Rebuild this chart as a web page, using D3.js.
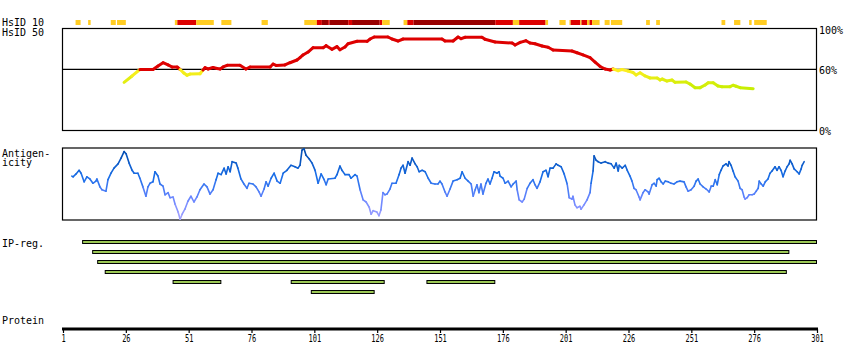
<!DOCTYPE html>
<html><head><meta charset="utf-8">
<script src="https://cdn.jsdelivr.net/npm/d3@7"></script>
<style>
body{margin:0;background:#fff;}
svg{display:block;}
text{font-family:"DejaVu Sans Mono",monospace;font-size:10px;fill:#000;}
</style></head>
<body><div id="chart"></div>
<script>
// ---------- DATA ----------
const proteinLength = 301;
const tickLabels = [1,26,51,76,101,126,151,176,201,226,251,276,301];

// HsID 10 strip: [start, end, level] level 1=yellow 2=red 3=dark red
const hsid10Start = [6,11,20,22.5,45.5,46.5,54,64,80,97,102,104,106.5,107,114.5,116,127,128,136.5,138,140.5,173,180,182.5,193,198.5,202.5,203,206.8,207.3,209.5,210.5,211.5,216.5,219,233,237,263,268,274,276];
const hsid10End   = [8,12,22,26,46.5,54,61,68,82.5,102,104,106.5,107,114.5,116,127,128,131,138,140.5,173,180,182.5,193,194,201,203,206.8,207.3,209.5,210.5,211.5,214.5,218.5,223.5,234.5,238.5,264.5,270.5,275,281];
const hsid10Level = [1,1,1,1,1,2,1,1,1,1,2,3,2,3,2,3,2,1,1,2,3,2,1,2,1,1,1,2,1,2,1,2,1,1,1,1,1,1,1,1,1];

// HsID 50 profile (% identity)
const hsid50Pos = [25.3,28.5,31.6,36.8,38.8,40.8,42.8,44.4,46.4,47.6,49.1,50.3,51.5,55.5,56.7,57.5,58.7,60.7,62.3,63.5,64.7,66.3,71.4,73.8,75.4,83.4,84.6,85.8,89.3,91.3,94.1,95.3,96.5,98.5,100.5,104.5,105.7,108,110,111.2,113.2,114.4,118,122,123.2,124.8,130.3,131.9,134.3,136.3,151.8,153,156.2,158.2,159.4,161,167.7,168.9,172.9,179.7,180.9,182.9,185.2,186.8,188.8,191.6,194,196,203.5,205.5,207.9,210.7,212.7,214.7,216.7,218.7,219.9,221.8,223.4,225.8,227.8,229,230.6,232.6,234.6,237.4,238.6,239.4,241.3,243.3,244.5,248.9,250.5,252.5,254.5,256.5,257.7,259.7,261.6,263.2,266.4,267.6,268.8,270.4,275.6];
const hsid50Val = [47.2,53.5,59.9,59.9,63.4,66.6,64.4,62.4,62.4,59.9,56.4,54.2,55.4,55.7,59.4,61.7,60.4,61.9,60.9,60.4,62.4,64.1,64.1,60.4,62.4,62.4,65.3,63.9,64.4,66.6,69.3,71.6,74.3,77.2,81.5,81.5,83.5,79.9,82.5,79.5,82.2,85.4,87.8,87.8,90.1,92.1,92.1,90.1,88.1,90.1,90.1,88.1,88.1,92.1,90.4,91.8,91.8,89.8,87.1,86.1,84.2,86.8,88.4,86.1,85.4,83.2,81.9,79.2,78.2,76.5,74.3,71.6,67.3,62.9,60.4,59.4,60.4,58.7,59.9,58.4,56.9,54.5,56.7,53.5,51.5,51.5,49.5,50.5,48.5,49.5,47.2,47.5,45.5,41.9,41.9,44.6,46.8,46.8,43.6,42.9,42.9,44.3,43.3,41.9,40.9];

// Antigenicity profile (relative score 0-100)
const antiPos = [4.5,5.0,6.2,7.4,8.2,9.4,10.5,11.7,12.9,14.1,14.5,15.7,16.5,18.1,18.9,20.1,21.3,22.9,24.1,25.3,26.1,27.3,28.5,29.3,30.8,31.6,32.8,34.0,34.8,35.6,36.8,37.6,38.8,39.6,40.8,41.6,42.8,43.6,44.8,45.6,46.8,47.6,48.4,49.5,50.7,51.9,53.1,54.3,55.5,57.1,58.3,59.5,60.7,61.9,62.7,63.9,65.1,65.9,66.7,67.5,68.3,69.9,70.6,71.8,73.0,74.2,75.0,76.6,77.8,79.0,79.8,81.0,81.8,82.6,83.8,85.0,86.2,87.4,88.6,90.1,91.7,93.3,94.5,95.3,96.1,96.9,97.7,98.9,100.1,101.3,102.5,103.7,104.9,105.7,106.5,109.2,110.0,111.2,112.0,113.2,114.8,115.6,117.2,118.0,119.2,120.4,121.6,122.8,123.6,124.4,125.9,126.7,127.5,128.3,129.1,129.9,131.1,131.9,133.5,134.7,135.5,136.3,137.1,138.3,139.1,139.9,141.1,141.9,142.7,143.9,145.1,146.3,147.5,149.0,150.2,151.0,151.8,153.0,153.8,155.0,156.2,157.8,159.0,159.8,161.0,162.2,163.4,164.2,165.0,165.7,166.5,167.3,168.1,169.3,170.1,170.9,171.7,172.5,173.7,174.5,174.9,176.1,176.9,178.1,179.3,180.1,181.3,181.7,182.5,183.7,184.5,185.7,186.8,188.0,188.8,189.6,190.8,192.0,193.2,194.0,194.8,196.0,197.2,198.0,199.2,200.4,201.6,202.4,203.5,203.9,204.7,205.5,206.7,207.1,208.3,209.5,210.7,211.1,211.9,212.3,213.1,213.9,215.1,216.7,217.9,219.1,220.3,221.1,221.9,222.3,223.5,224.7,225.5,226.6,227.4,228.2,229.0,230.2,230.6,231.8,232.6,233.8,234.2,235.4,236.2,237.0,237.4,238.2,239.0,239.8,240.6,241.8,242.9,244.1,245.3,246.5,248.1,248.9,249.7,250.9,252.1,252.9,253.7,254.5,255.7,256.9,258.1,258.9,259.7,260.5,261.3,262.1,262.8,263.6,264.8,265.6,266.0,266.8,267.6,268.4,269.6,270.4,271.2,272.0,272.4,273.2,274.0,275.2,276.0,276.8,277.6,278.0,278.8,279.6,280.4,281.5,282.3,283.1,284.3,285.1,285.9,286.7,287.5,288.3,289.1,289.9,290.3,291.1,291.9,293.1,293.9,294.7,295.1,295.9];
const antiVal = [61,60,64,69,65,53,60,57,51,54,57,46,42,40,56,65,72,78,86,95,92,79,69,65,65,58,46,33,46,51,53,67,61,50,47,35,38,31,32,22,11,1,8,15,26,33,25,32,42,50,46,36,42,56,65,63,72,64,74,67,81,79,72,57,50,44,51,50,46,39,33,43,53,47,58,65,54,51,65,69,76,74,72,76,97,99,90,85,79,69,51,64,56,49,57,58,63,75,69,63,63,58,63,61,42,28,25,18,8,13,11,6,14,38,35,36,43,51,51,63,72,76,65,81,76,86,78,74,67,69,67,58,51,50,50,54,50,39,33,43,54,56,58,67,58,54,50,33,42,49,38,50,36,51,57,50,58,67,65,67,61,58,51,54,46,50,54,42,28,25,29,44,51,56,49,44,53,67,69,60,72,72,78,76,74,64,50,31,29,33,21,17,19,15,21,28,38,51,68,89,83,81,79,81,79,78,72,79,68,76,72,76,69,61,54,44,42,32,28,38,42,39,36,49,51,47,56,58,53,50,54,53,51,50,53,54,53,46,40,42,47,54,57,50,46,43,39,47,47,56,49,63,69,75,78,75,81,76,68,60,54,44,42,32,29,31,35,35,36,40,44,54,50,47,53,57,65,68,74,69,74,69,60,68,74,78,83,78,71,67,64,71,76,81];

// IP regions [start, end]
const ipStart = [9,13,15,18,45,92,146,100];
const ipEnd   = [301,290,301,289,64,129,173,125];

// ---------- DRAW ----------
const W = 850, H = 360;
const svg = d3.select("#chart").append("svg").attr("width", W).attr("height", H);
const x = d3.scaleLinear().domain([1, proteinLength]).range([63, 817]);
const boxL = 62, boxR = 817;

// left labels
const lab = (t, yy) => svg.append("text").attr("x", 2).attr("y", yy).text(t);
lab("HsID 10", 25.5); lab("HsID 50", 35.5);
lab("Antigen-", 156.5); lab("icity", 166);
lab("IP-reg.", 247); lab("Protein", 324);

// HsID 10 strip
const lvlColor = d3.scaleOrdinal().domain([1,2,3]).range(["#ffcc22","#dd0000","#990000"]);
svg.append("g").selectAll("rect").data(d3.range(hsid10Start.length)).join("rect")
  .attr("x", i => x(hsid10Start[i])).attr("y", 20)
  .attr("width", i => Math.max(1, x(hsid10End[i]) - x(hsid10Start[i])))
  .attr("height", 5).attr("fill", i => lvlColor(hsid10Level[i]));

// HsID 50 panel
const y50 = d3.scaleLinear().domain([0,100]).range([130, 29]);
svg.append("rect").attr("x", boxL+0.5).attr("y", y50(100)-0.5).attr("width", boxR-boxL-1).attr("height", y50(0)-y50(100)+1)
  .attr("fill","none").attr("stroke","#000").attr("stroke-width",1.2);
svg.append("line").attr("x1", boxL).attr("x2", boxR).attr("y1", y50(60)).attr("y2", y50(60)).attr("stroke","#000").attr("stroke-width",1.2);
[[100,"100%"],[60,"60%"],[0,"0%"]].forEach(([v,t]) =>
  svg.append("text").attr("x", 819).attr("y", y50(v)+5).text(t));
const lowCol = d3.interpolateRgb("#c4ee00", "#ffee22");
const col50 = v => v >= 59.6 ? "#dd0000" : lowCol(Math.max(0, Math.min(1, (v-40)/20)));
const g50 = svg.append("g");
for (let i = 0; i < hsid50Pos.length-1; i++) {
  const m = (hsid50Val[i] + hsid50Val[i+1]) / 2;
  g50.append("line")
    .attr("x1", x(hsid50Pos[i])).attr("y1", y50(hsid50Val[i]))
    .attr("x2", x(hsid50Pos[i+1])).attr("y2", y50(hsid50Val[i+1]))
    .attr("stroke", col50(m)).attr("stroke-width", 3).attr("stroke-linecap","round");
}

// Antigenicity panel
const yA = d3.scaleLinear().domain([0,100]).range([220, 148]);
svg.append("rect").attr("x", boxL+0.5).attr("y", yA(100)).attr("width", boxR-boxL-1).attr("height", yA(0)-yA(100))
  .attr("fill","none").attr("stroke","#000").attr("stroke-width",1.2);
const colA = d3.scaleLinear().domain([0,30,60,100]).range(["#a8a4ff","#6a86ff","#1a6ee8","#0048a8"]).clamp(true);
const gA = svg.append("g");
for (let i = 0; i < antiPos.length-1; i++) {
  const m = (antiVal[i] + antiVal[i+1]) / 2;
  gA.append("line")
    .attr("x1", x(antiPos[i])).attr("y1", yA(antiVal[i]))
    .attr("x2", x(antiPos[i+1])).attr("y2", yA(antiVal[i+1]))
    .attr("stroke", colA(m)).attr("stroke-width", 1.6).attr("stroke-linecap","round");
}

// IP regions: greedy lane packing
const lanes = [];
const laneOf = ipStart.map((s, i) => {
  let l = lanes.findIndex(arr => arr.every(j => ipEnd[j] < s || ipStart[j] > ipEnd[i]));
  if (l < 0) { lanes.push([]); l = lanes.length - 1; }
  lanes[l].push(i); return l;
});
svg.append("g").selectAll("rect").data(d3.range(ipStart.length)).join("rect")
  .attr("x", i => x(ipStart[i]) - 0.5).attr("y", i => 240.5 + laneOf[i]*10)
  .attr("width", i => x(ipEnd[i]) - x(ipStart[i])).attr("height", 3)
  .attr("fill", "#9cc856").attr("stroke", "#000").attr("stroke-width", 1);

// Protein axis
const axis = d3.axisBottom(x).tickValues(tickLabels).tickSize(4).tickSizeOuter(0).tickFormat(d3.format("d"));
const ga = svg.append("g").attr("transform", "translate(0,329)").call(axis);
ga.select(".domain").attr("stroke-width", 3).attr("d", `M${boxL},0H${boxR+1}`);
ga.selectAll(".tick line").attr("stroke-width", 1.2);
ga.selectAll(".tick text").attr("font-family", "DejaVu Sans Mono").attr("font-size", 10).attr("dy", "0.6em")
  .attr("transform", "scale(0.7,1)");
</script></body></html>
